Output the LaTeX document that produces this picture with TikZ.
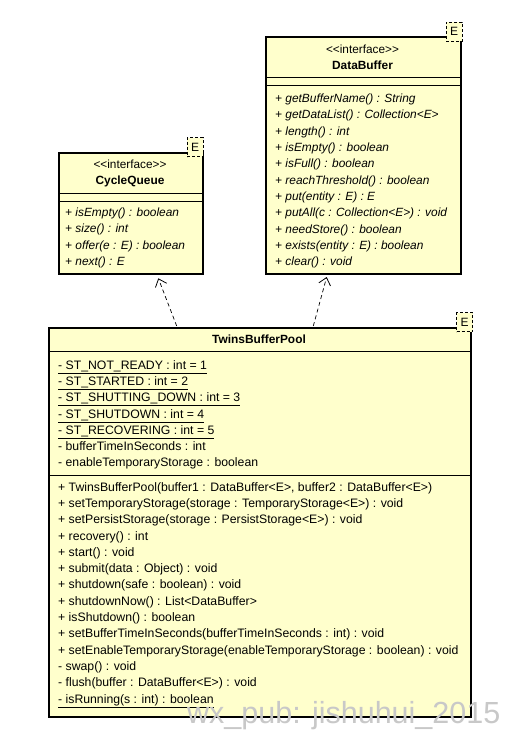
\documentclass[tikz,border=0pt]{standalone}
\usepackage{fontspec}
\setmainfont{Liberation Sans}
\usetikzlibrary{arrows.meta,backgrounds}
\definecolor{umlfill}{HTML}{FFFFCC}
\definecolor{wmark}{HTML}{C8C8C8}
\begin{document}
\begin{tikzpicture}[x=1pt,y=-1pt,
  umlbox/.style={draw=black, line width=1.8pt, fill=umlfill, inner sep=0pt, anchor=north west},
  ebox/.style={draw=black, densely dashed, line width=0.7pt, fill=umlfill, inner sep=0pt, minimum width=16pt, minimum height=19pt, font=\fontsize{12}{14}\selectfont},
  member/.style={anchor=mid west, inner sep=0pt, font=\fontsize{12.25}{14}\selectfont},
  imember/.style={anchor=mid west, inner sep=0pt, font=\fontsize{11.9}{14}\selectfont\itshape},
  cname/.style={anchor=mid, inner sep=0pt, font=\fontsize{11.9}{14}\selectfont\bfseries},
  stereo/.style={anchor=mid, inner sep=0pt, font=\fontsize{11.8}{13}\selectfont},
  sep/.style={line width=0.8pt},
  dep/.style={line width=0.7pt, dash pattern=on 4pt off 3pt, -{Straight Barb[length=7pt,width=12pt,line width=0.8pt]}},
  shadowbox/.style={fill=black}
]
\useasboundingbox (0,0) rectangle (505,741);
\fill[white] (0,0) rectangle (505,741);

% ---------- DataBuffer ----------
\node[umlbox, minimum width=195pt, minimum height=237pt] (db) at (265,36) {};
\node[stereo] (dbs) at (362.5,50.5) {<{}<interface>{}>};
\node[cname] (dbn) at (362.5,66.5) {DataBuffer};
\draw[sep] (db.west |- 0,77) -- (db.east |- 0,77);
\draw[sep] (db.west |- 0,85) -- (db.east |- 0,85);
\foreach \t [count=\i from 0] in {
  getBufferName() : String,
  getDataList() : Collection<E>,
  length() : int,
  isEmpty() : boolean,
  isFull() : boolean,
  reachThreshold() : boolean,
  put(entity : E) : E,
  putAll(c : Collection<E>) : void,
  needStore() : boolean,
  exists(entity : E) : boolean,
  clear() : void}
  \node[imember] (dbm\i) at (275,100+16.3*\i) {+ \t};
\node[ebox] (dbe) at (454,31.5) {E};

% ---------- CycleQueue ----------
\node[umlbox, minimum width=144pt, minimum height=121pt] (cq) at (58,152) {};
\node[stereo] (cqs) at (130,165.5) {<{}<interface>{}>};
\node[cname] (cqn) at (130,182) {CycleQueue};
\draw[sep] (cq.west |- 0,193) -- (cq.east |- 0,193);
\draw[sep] (cq.west |- 0,201) -- (cq.east |- 0,201);
\foreach \t [count=\i from 0] in {
  isEmpty() : boolean,
  size() : int,
  offer(e : E) : boolean,
  next() : E}
  \node[imember] (cqm\i) at (65,213.5+16.5*\i) {+ \t};
\node[ebox] (cqe) at (195,147) {E};

% ---------- TwinsBufferPool ----------
\node[umlbox, minimum width=422pt, minimum height=389pt] (tbp) at (48,327) {};
\node[cname] (tbpn) at (259,341) {TwinsBufferPool};
\draw[sep] (tbp.west |- 0,351) -- (tbp.east |- 0,351);
\foreach \t [count=\i from 0] in {
  - ST\_NOT\_READY : int = 1,
  - ST\_STARTED : int = 2,
  - ST\_SHUTTING\_DOWN : int = 3,
  - ST\_SHUTDOWN : int = 4,
  - ST\_RECOVERING : int = 5}
  \node[member] (tba\i) at (58,366.5+16.3*\i) {\underline{\t}};
\node[member] (tba5) at (58,448) {- bufferTimeInSeconds : int};
\node[member] (tba6) at (58,464.3) {- enableTemporaryStorage : boolean};
\draw[sep] (tbp.west |- 0,475) -- (tbp.east |- 0,475);
\foreach \t [count=\i from 0] in {
  {+ TwinsBufferPool(buffer1 : DataBuffer<E>, buffer2 : DataBuffer<E>)},
  + setTemporaryStorage(storage : TemporaryStorage<E>) : void,
  + setPersistStorage(storage : PersistStorage<E>) : void,
  + recovery() : int,
  + start() : void,
  + submit(data : Object) : void,
  + shutdown(safe : boolean) : void,
  + shutdownNow() : List<DataBuffer>,
  + isShutdown() : boolean,
  + setBufferTimeInSeconds(bufferTimeInSeconds : int) : void,
  + setEnableTemporaryStorage(enableTemporaryStorage : boolean) : void,
  - swap() : void,
  - flush(buffer : DataBuffer<E>) : void}
  \node[member] (tbm\i) at (58,488.5+16.3*\i) {\t};
\node[member] (tbm13) at (58,700.4) {\underline{- isRunning(s : int) : boolean}};
\node[ebox] (tbpe) at (464.5,322) {E};

% ---------- shadows ----------
\begin{scope}[on background layer]
  \foreach \b in {db,cq,tbp}
    \fill[shadowbox] ([shift={(2.5pt,-2.5pt)}]\b.south west) rectangle ([shift={(2.5pt,-2.5pt)}]\b.north east);
\end{scope}

% ---------- dependencies ----------
\coordinate (c1s) at (176.7,326);
\coordinate (c1e) at (158.3,278.3);
\coordinate (c2s) at (313.3,326);
\coordinate (c2e) at (326.7,277);
\draw[dep] (c1s) -- (c1e);
\draw[dep] (c2s) -- (c2e);

% ---------- watermark ----------
\node[anchor=base west, inner sep=0pt, text=wmark, font=\fontsize{30.5}{31}\selectfont] (wm) at (187,723.5) {wx\_pub: jishuhui\_2015};
\end{tikzpicture}
\end{document}
